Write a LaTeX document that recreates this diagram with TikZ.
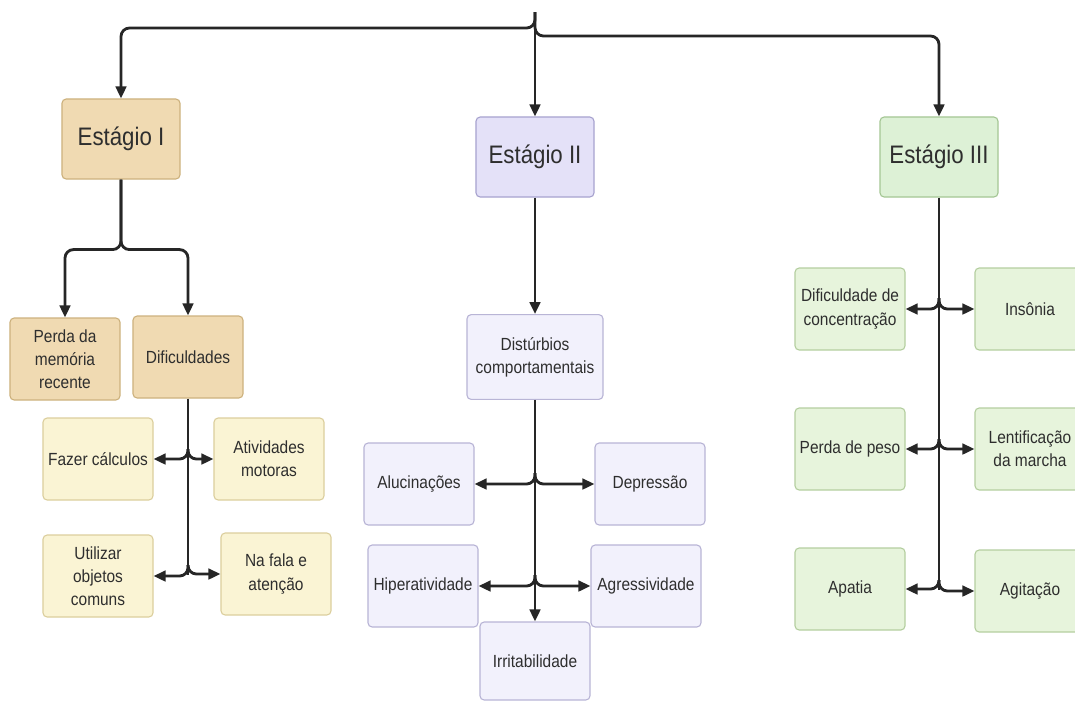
\documentclass[tikz,border=0pt]{standalone}
\usepackage{fontspec}
\setmainfont{Liberation Sans}[FakeStretch=0.88]
\usepackage{xcolor}
\usetikzlibrary{arrows.meta, positioning, calc}

\definecolor{txtgray}{HTML}{2E2E2E}
\definecolor{linkgray}{HTML}{262626}
\definecolor{tanfill}{HTML}{F0DAB2}
\definecolor{tanline}{HTML}{CDB27E}
\definecolor{creamfill}{HTML}{FAF4D4}
\definecolor{creamline}{HTML}{DCCF9E}
\definecolor{lilacfill}{HTML}{E4E1F8}
\definecolor{lilacline}{HTML}{A8A3CF}
\definecolor{palelilacfill}{HTML}{F2F1FC}
\definecolor{palelilacline}{HTML}{B9B5D6}
\definecolor{greenfill}{HTML}{DDF1D6}
\definecolor{greenline}{HTML}{A5C795}
\definecolor{palegreenfill}{HTML}{E7F4DC}
\definecolor{palegreenline}{HTML}{B5CFA0}

\begin{document}
\begin{tikzpicture}[x=0.025cm, y=-0.025cm,
  box/.style={draw, rounded corners=3pt, line width=0.8pt, text=txtgray, align=center, inner sep=2pt},
  stagebox/.style={box, minimum width=2.95cm, minimum height=2cm, font=\fontsize{18}{21}\selectfont},
  itembox/.style={box, minimum width=2.75cm, minimum height=2.05cm, font=\fontsize{12.5}{16.5}\selectfont},
  tanbox/.style={fill=tanfill, draw=tanline},
  creambox/.style={fill=creamfill, draw=creamline},
  lilacbox/.style={fill=lilacfill, draw=lilacline},
  palelilacbox/.style={fill=palelilacfill, draw=palelilacline},
  greenbox/.style={fill=greenfill, draw=greenline},
  palegreenbox/.style={fill=palegreenfill, draw=palegreenline},
  link/.style={-{Triangle[length=8.5pt, width=7.5pt]}, line width=2pt, draw=linkgray, rounded corners=6pt},
  stem/.style={line width=2pt, draw=linkgray}]
  \useasboundingbox (0,0) rectangle (1075,700);
  \clip (0,0) rectangle (1075,700);
  \fill[white] (0,0) rectangle (1075,700);

  \node[stagebox, tanbox] (est1) at (121,139) {Estágio I};
  \node[stagebox, lilacbox] (est2) at (535,157) {Estágio II};
  \node[stagebox, greenbox] (est3) at (939,157) {Estágio III};

  \node[itembox, tanbox] (perda) at (65,359) {Perda da\\memória\\recente};
  \node[itembox, tanbox] (dific) at (188,357) {Dificuldades};
  \node[itembox, creambox] (calc) at (98,459) {Fazer cálculos};
  \node[itembox, creambox] (motor) at (269,459) {Atividades\\motoras};
  \node[itembox, creambox] (util) at (98,576) {Utilizar\\objetos\\comuns};
  \node[itembox, creambox] (fala) at (276,574) {Na fala e\\atenção};

  \node[itembox, palelilacbox, minimum width=3.4cm, minimum height=2.12cm] (dist) at (535,357) {Distúrbios\\comportamentais};
  \node[itembox, palelilacbox] (aluc) at (419,484) {Alucinações};
  \node[itembox, palelilacbox] (depr) at (650,484) {Depressão};
  \node[itembox, palelilacbox] (hiper) at (423,586) {Hiperatividade};
  \node[itembox, palelilacbox] (agres) at (646,586) {Agressividade};
  \node[itembox, palelilacbox, minimum height=1.95cm] (irrit) at (535,661) {Irritabilidade};

  \node[itembox, palegreenbox] (conc) at (850,309) {Dificuldade de\\concentração};
  \node[itembox, palegreenbox] (inson) at (1030,309) {Insônia};
  \node[itembox, palegreenbox] (peso) at (850,449) {Perda de peso};
  \node[itembox, palegreenbox] (lent) at (1030,449) {Lentificação\\da marcha};
  \node[itembox, palegreenbox] (apat) at (850,589) {Apatia};
  \node[itembox, palegreenbox] (agit) at (1030,591) {Agitação};

  \coordinate (top) at (535,12);
  \draw[link] (top) -- (est2);
  \draw[link] (top) -- ++(0,16) -| (est1);
  \draw[link] (top) -- ++(0,24) -| (est3);

  \draw[link] (est1.south) -- ++(0,70) -| (perda);
  \draw[link] (est1.south) -- ++(0,70) -| (dific);

  \coordinate (d1) at (188,449);
  \coordinate (d2) at (188,565);
  \draw[stem] (dific.south) -- ($(d2)+(0,10)$);
  \draw[link] (d1) |- (calc);
  \draw[link] (d1) |- (motor);
  \draw[link] (d2) |- (util);
  \draw[link] (d2) |- (fala);

  \draw[link] (est2) -- (dist);
  \draw[link] (dist) -- (irrit);
  \coordinate (c1) at (535,473);
  \coordinate (c2) at (535,575);
  \draw[link] (c1) |- (aluc);
  \draw[link] (c1) |- (depr);
  \draw[link] (c2) |- (hiper);
  \draw[link] (c2) |- (agres);

  \coordinate (g1) at (939,298);
  \coordinate (g2) at (939,439);
  \coordinate (g3) at (939,580);
  \draw[stem] (est3.south) -- ($(g3)+(0,10)$);
  \draw[link] (g1) |- (conc);
  \draw[link] (g1) |- (inson);
  \draw[link] (g2) |- (peso);
  \draw[link] (g2) |- (lent);
  \draw[link] (g3) |- (apat);
  \draw[link] (g3) |- (agit);
\end{tikzpicture}
\end{document}
